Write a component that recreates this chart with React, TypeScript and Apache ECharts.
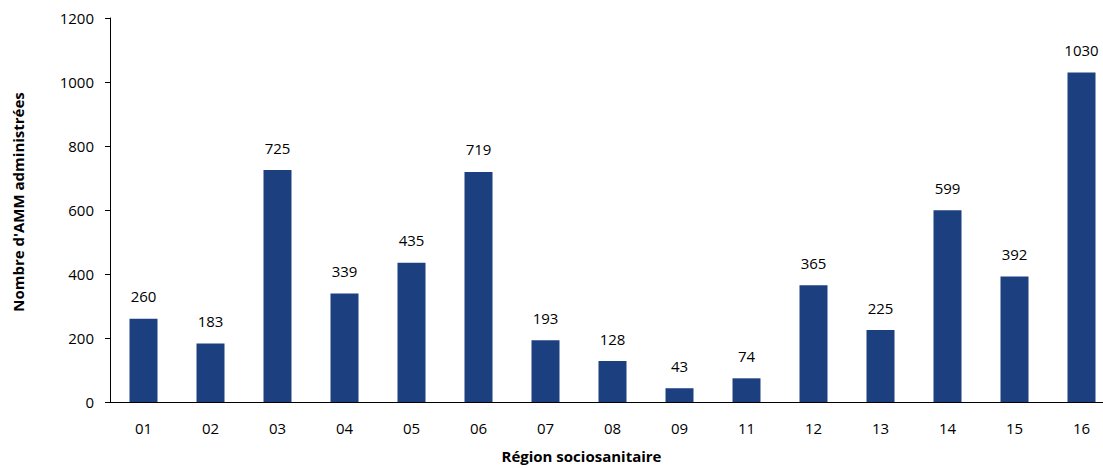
import React, { useEffect, useRef } from "react";
import * as echarts from "echarts";

const categories = ["01", "02", "03", "04", "05", "06", "07", "08", "09", "11", "12", "13", "14", "15", "16"];
const values = [260, 183, 725, 339, 435, 719, 193, 128, 43, 74, 365, 225, 599, 392, 1030];
const yTicks = { min: 0, max: 1200, interval: 200 };

const FONT = "'Open Sans', sans-serif";

export default function App() {
  const ref = useRef<HTMLDivElement>(null);
  useEffect(() => {
    if (!ref.current) return;
    const chart = echarts.init(ref.current, null, { renderer: "svg" });
    chart.setOption({
      animation: false,
      grid: { left: 110, right: -12, top: 18, bottom: 66, containLabel: false, outerBoundsMode: "none" },
      xAxis: {
        type: "category",
        data: categories,
        name: "Région sociosanitaire",
        nameLocation: "middle",
        nameGap: 46,
        nameTextStyle: { fontFamily: FONT, fontWeight: "bold", fontSize: 15, color: "#000", padding: [0, 62, 0, 0] },
        axisLine: { lineStyle: { color: "#000", width: 1 } },
        axisTick: { show: false },
        axisLabel: { fontFamily: FONT, fontSize: 15, color: "#000", margin: 18 },
      },
      yAxis: {
        type: "value",
        min: yTicks.min,
        max: yTicks.max,
        interval: yTicks.interval,
        name: "Nombre d'AMM administrées",
        nameLocation: "middle",
        nameGap: 85,
        nameRotate: 90,
        nameTextStyle: { fontFamily: FONT, fontWeight: "bold", fontSize: 15, color: "#000", padding: [0, 0, 0, 16] },
        axisLine: { show: true, lineStyle: { color: "#000", width: 1 } },
        axisTick: { show: true, inside: false, length: 5, lineStyle: { color: "#000" } },
        splitLine: { show: false },
        axisLabel: { fontFamily: FONT, fontSize: 15, color: "#000", margin: 16, formatter: (v: number) => String(v) },
      },
      series: [
        {
          type: "bar",
          data: values,
          barWidth: 28,
          itemStyle: { color: "#1c3f7f" },
          label: {
            show: true,
            position: "top",
            distance: 15,
            fontFamily: FONT,
            fontSize: 15,
            color: "#000",
          },
        },
      ],
    });
    return () => chart.dispose();
  }, []);
  return <div ref={ref} style={{ position: "absolute", left: 0, top: 0, width: 1103, height: 468 }} />;
}
